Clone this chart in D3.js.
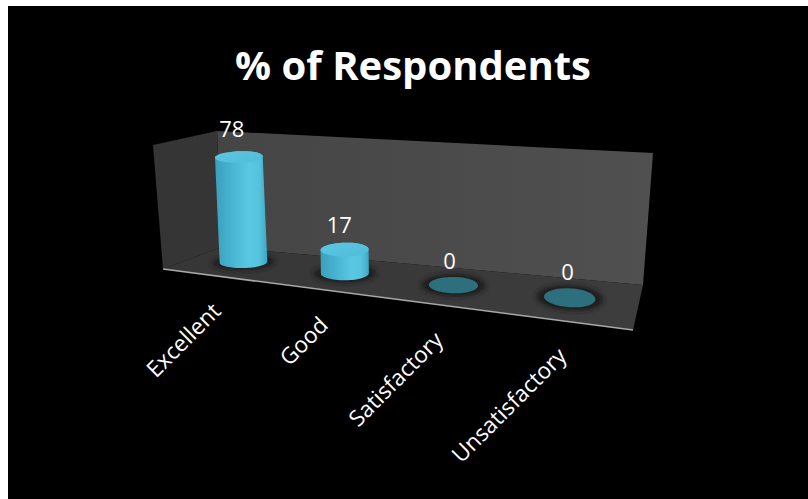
<!DOCTYPE html>
<html>
<head>
<meta charset="utf-8">
<script src="https://cdn.jsdelivr.net/npm/d3@7"></script>
<style>
  body { margin: 0; background: #fff; }
  svg { display: block; }
</style>
</head>
<body>
<script>
// ---- data ----
const categories = ["Excellent", "Good", "Satisfactory", "Unsatisfactory"];
const values = [78, 17, 0, 0];
const valueLabels = ["78", "17", "0", "0"];
const chartTitle = "% of Respondents";
const valueDomain = [0, 90];

// ---- setup ----
const W = 808, H = 499;
const FONT = "'Open Sans', 'DejaVu Sans', sans-serif";
const svg = d3.select("body").append("svg").attr("width", W).attr("height", H);
const defs = svg.append("defs");

svg.append("rect").attr("width", W).attr("height", H).attr("fill", "#fff");
svg.append("rect").attr("x", 8).attr("y", 6).attr("width", W - 8).attr("height", H - 6).attr("fill", "#000");

// Screen corners of the 3D plot box (F/B = front/back, L/R = left/right, B/T = bottom/top)
const box = {
  FLB: [163, 269], FRB: [633, 330], BLB: [222, 247], BRB: [643, 285],
  FLT: [153, 145], FRT: [643, 189], BLT: [217, 131], BRT: [653, 153]
};
// mild perspective foreshortening along the category axis
const persp = 0.15;
const warp = u => u / (1 + persp * (1 - u));
const lerp = (a, b, t) => [a[0] + (b[0] - a[0]) * t, a[1] + (b[1] - a[1]) * t];
// (u: category axis 0..1, d: depth 0 front..1 back, h: height 0..1) -> screen
function project(u, d, h) {
  const s = warp(u);
  const fb = lerp(box.FLB, box.FRB, s), bb = lerp(box.BLB, box.BRB, s);
  const ft = lerp(box.FLT, box.FRT, s), bt = lerp(box.BLT, box.BRT, s);
  return lerp(lerp(fb, bb, d), lerp(ft, bt, d), h);
}

const x = d3.scalePoint().domain(categories).range([0.123, 0.862]);
const y = d3.scaleLinear().domain(valueDomain).range([0, 1]);
const line = d3.line();

// ---- gradients & filters ----
const gBack = defs.append("linearGradient").attr("id", "backWall")
  .attr("x1", 0).attr("y1", 0).attr("x2", 1).attr("y2", 0);
gBack.append("stop").attr("offset", 0).attr("stop-color", "#454545");
gBack.append("stop").attr("offset", 1).attr("stop-color", "#505050");

const gFloor = defs.append("linearGradient").attr("id", "floor")
  .attr("x1", 0).attr("y1", 0).attr("x2", 1).attr("y2", 0);
gFloor.append("stop").attr("offset", 0).attr("stop-color", "#363636");
gFloor.append("stop").attr("offset", 1).attr("stop-color", "#3d3d3d");

const gBody = defs.append("linearGradient").attr("id", "cylBody")
  .attr("x1", 0).attr("y1", 0).attr("x2", 1).attr("y2", 0);
[[0, "#3a9fbc"], [0.3, "#47b3d1"], [0.65, "#5ac8e3"], [0.85, "#55c2de"], [1, "#3ea6c3"]]
  .forEach(([o, c]) => gBody.append("stop").attr("offset", o).attr("stop-color", c));

const gCap = defs.append("linearGradient").attr("id", "cylCap")
  .attr("x1", 0).attr("y1", 0).attr("x2", 1).attr("y2", 1);
gCap.append("stop").attr("offset", 0).attr("stop-color", "#5cc7e1");
gCap.append("stop").attr("offset", 1).attr("stop-color", "#4fbcd9");

defs.append("filter").attr("id", "soft").attr("x", "-50%").attr("y", "-50%")
  .attr("width", "200%").attr("height", "200%")
  .append("feGaussianBlur").attr("stdDeviation", 2.5);

// ---- walls ----
const wall = pts => line(pts.map(p => project(...p))) + "Z";
svg.append("path").attr("d", wall([[0,1,0],[1,1,0],[1,1,1],[0,1,1]])).attr("fill", "url(#backWall)");
svg.append("path").attr("d", wall([[0,0,0],[0,1,0],[0,1,1],[0,0,1]])).attr("fill", "#353535");
svg.append("path").attr("d", wall([[0,0,0],[1,0,0],[1,1,0],[0,1,0]])).attr("fill", "url(#floor)");
svg.append("path").attr("d", line([project(0,0,0), project(1,0,0)]))
  .attr("stroke", "#a8a8a8").attr("stroke-width", 1.6).attr("fill", "none");

// ---- cylinders ----
const rU = 0.052, rD = 0.22, depth = 0.55;
const angles = d3.range(72).map(i => i / 72 * 2 * Math.PI);

const bars = categories.map((c, i) => {
  const u0 = x(c), h = y(values[i]);
  const base = angles.map(t => project(u0 + rU * Math.cos(t), depth + rD * Math.sin(t), 0));
  const c0 = project(u0, depth, 0), c1 = project(u0, depth, h);
  const cap = base.map(p => [p[0] + c1[0] - c0[0], p[1] + c1[1] - c0[1]]);
  const shadow = angles.map(t => project(u0 + rU * 1.3 * Math.cos(t), depth + rD * 1.35 * Math.sin(t), 0));
  return { c, i, u0, h, base, cap, c0, c1, shadow };
});

const gBars = svg.append("g");
gBars.selectAll("path.shadow").data(bars).join("path").attr("class", "shadow")
  .attr("d", b => line(b.shadow) + "Z").attr("fill", "#1b1b1b").attr("filter", "url(#soft)");

gBars.selectAll("path.body").data(bars.filter(b => b.h > 0)).join("path").attr("class", "body")
  .attr("d", b => line(d3.polygonHull(b.base.concat(b.cap))) + "Z")
  .attr("fill", "url(#cylBody)");

gBars.selectAll("path.cap").data(bars).join("path").attr("class", "cap")
  .attr("d", b => line(b.cap) + "Z")
  .attr("fill", b => b.h > 0 ? "url(#cylCap)" : "#2d6f7d");

// ---- value labels ----
svg.append("g").selectAll("text").data(bars).join("text")
  .attr("x", b => b.c1[0] - 8 + 7 * b.u0)
  .attr("y", b => d3.min(b.cap, p => p[1]) - 8 - 7 * b.h)
  .attr("text-anchor", "middle")
  .attr("font-family", FONT).attr("font-size", 22).attr("fill", "#fff")
  .text(b => valueLabels[b.i]);

// ---- category labels ----
svg.append("g").selectAll("text").data(categories).join("text")
  .attr("transform", c => {
    const p = project(x(c), 0, 0);
    return `translate(${p[0] + 8},${p[1] + 37}) rotate(-45)`;
  })
  .attr("text-anchor", "end")
  .attr("font-family", FONT).attr("font-size", 22.5).attr("fill", "#fff")
  .text(c => c);

// ---- title ----
svg.append("text").attr("x", 413).attr("y", 80).attr("text-anchor", "middle")
  .attr("font-family", FONT).attr("font-weight", "bold").attr("font-size", 40)
  .attr("fill", "#fff").text(chartTitle);
</script>
</body>
</html>
